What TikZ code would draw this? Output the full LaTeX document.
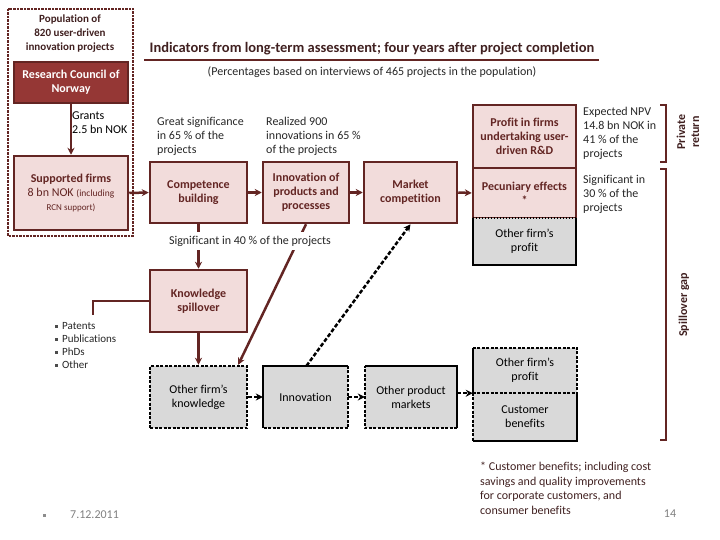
\documentclass[tikz,border=0pt]{standalone}
\usepackage{fontspec}
\setmainfont{Carlito}[Ligatures=NoCommon]
\usepackage{xcolor}
\definecolor{rcnred}{RGB}{149,55,53}
\definecolor{darkred}{RGB}{99,37,35}
\definecolor{pinkfill}{RGB}{242,220,219}
\definecolor{greyfill}{RGB}{217,217,217}
\definecolor{headbrown}{RGB}{64,32,32}
\usepackage{tikz}
\usetikzlibrary{arrows.meta, positioning, calc}

\begin{document}
\begin{tikzpicture}[x=1pt,y=-1pt,
  every node/.style={font=\fontsize{12}{14}\selectfont, inner sep=0pt},
  pinkbox/.style={draw=darkred, fill=pinkfill, line width=2.5pt, align=center,
    text=darkred, font=\fontsize{12}{14}\selectfont\bfseries},
  greybox/.style={fill=greyfill, align=center, text=black},
  redarrow/.style={darkred, line width=2.5pt, -{Stealth[length=7pt,width=7pt]}},
  dasharrow/.style={black, line width=2.5pt, dash pattern=on 4pt off 2pt,
    -{Stealth[length=7pt,width=7pt]}},
  solidedge/.style={black, line width=2.5pt},
  dashedge/.style={black, line width=2.5pt, dash pattern=on 3pt off 1.5pt},
  note/.style={align=left, anchor=north west, text=black!85},
  bracket/.style={darkred, line width=2.5pt}]
\useasboundingbox (0,0) rectangle (720,540);

% population frame
\draw[darkred, line width=2.5pt, dash pattern=on 2.5pt off 1pt] (8,9) rectangle (133,236);
\node[align=center, text=headbrown, font=\fontsize{11}{14}\selectfont\bfseries] (pop) at (70,34)
  {Population of\\820 user-driven\\innovation projects};
\node[draw=darkred, fill=rcnred, line width=2pt, text=white, align=center,
  font=\fontsize{12}{14}\selectfont\bfseries, minimum width=114pt, minimum height=41pt] (rcn) at (71,82.5)
  {Research Council of\\Norway};
\node[pinkbox, minimum width=114pt, minimum height=74pt] (firms) at (71,193)
  {Supported firms\\{\mdseries 8 bn NOK {\fontsize{9.5}{14}\selectfont(including}}\\
   {\mdseries\fontsize{9}{12}\selectfont RCN support)}};
\draw[redarrow] (rcn) -- (firms);
\node[note, text=black] (grants) at (72,112) {Grants\\2.5 bn NOK};

% header
\node[text=headbrown, font=\fontsize{14.5}{16}\selectfont\bfseries] (title) at (372,49)
  {Indicators from long-term assessment; four years after project completion};
\draw[darkred, line width=2pt] (144,60) -- (599,60);
\node[text=black!85] (sub) at (372,72)
  {(Percentages based on interviews of 465 projects in the population)};

% first row
\node[pinkbox, minimum width=97pt, minimum height=61pt] (comp) at (198.5,192.5) {Competence\\building};
\node[pinkbox, minimum width=86pt, minimum height=61pt] (innov) at (306,192.5) {Innovation of\\products and\\processes};
\node[pinkbox, minimum width=93pt, minimum height=61pt] (market) at (410.5,192.5) {Market\\competition};
\node[pinkbox, minimum width=103pt, minimum height=63pt] (profit) at (524.5,136.5) {Profit in firms\\undertaking user-\\driven R\&D};
\node[pinkbox, minimum width=103pt, minimum height=50pt] (pecun) at (524.5,193) {Pecuniary effects\\*};
\node[greybox, minimum width=103pt, minimum height=47pt] (ofprofit) at (524.5,241.5) {Other firm's\\profit};
\draw[solidedge] (ofprofit.north west) -- (ofprofit.south west) -- (ofprofit.south east) -- (ofprofit.north east);
\draw[black, line width=2.5pt, dash pattern=on 1.5pt off 1.5pt] (ofprofit.north west) -- (ofprofit.north east);

\draw[redarrow] (firms.east) -- (comp.west);
\draw[redarrow] (comp) -- (innov);
\draw[redarrow] (innov) -- (market);
\draw[redarrow] (market.east) -- (pecun.west);

\node[note] (greatsig) at (157,117) {Great significance\\in 65 \% of the\\projects};
\node[note] (realized) at (266,117) {Realized 900\\innovations in 65 \%\\of the projects};
\node[note] (npv) at (583,107) {Expected NPV\\14.8 bn NOK in\\41 \% of the\\projects};
\node[note] (sig30) at (583,175) {Significant in\\30 \% of the\\projects};

% spillover part
\node[pinkbox, minimum width=97pt, minimum height=62pt] (spill) at (198.5,301) {Knowledge\\spillover};
\node[greybox, draw=black, line width=2.5pt, dash pattern=on 3pt off 1.5pt,
  minimum width=97pt, minimum height=62pt] (ofknow) at (198.5,397) {Other firm's\\knowledge};
\node[greybox, minimum width=85pt, minimum height=62pt] (inno) at (305.5,397) {Innovation};
\draw[solidedge] (inno.south west) -- (inno.north west) -- (inno.north east);
\draw[dashedge] (inno.north east) -- (inno.south east) -- (inno.south west);
\node[greybox, minimum width=92pt, minimum height=62pt] (opm) at (411,397) {Other product\\markets};
\draw[solidedge] (opm.north west) -- (opm.north east) -- (opm.south east);
\draw[dashedge] (opm.south east) -- (opm.south west) -- (opm.north west);
\node[greybox, minimum width=104pt, minimum height=45pt] (ofprofit2) at (525,370.5) {Other firm's\\profit};
\node[greybox, minimum width=104pt, minimum height=48pt] (custben) at (525,417) {Customer\\benefits};
\draw[solidedge] (ofprofit2.south west) -- (ofprofit2.north west);
\draw[dashedge] (ofprofit2.north west) -- (ofprofit2.north east) -- (ofprofit2.south east);
\draw[dashedge] (custben.north west) -- (custben.north east);
\draw[dashedge] (custben.north west) -- (custben.south west);
\draw[solidedge] (custben.south west) -- (custben.south east) -- (custben.north east);

\draw[redarrow] (comp.south) -- (spill.north);
\draw[redarrow] (innov.south) -- ([xshift=-10pt]ofknow.north east);
\draw[redarrow] (spill.south) -- (ofknow.north);
\node[fill=white, inner xsep=2pt, inner ysep=4pt, text=black!85] (sig40) at (250,241)
  {Significant in 40 \% of the projects};
\draw[dasharrow] ([xshift=1pt]inno.north) -- (market.south);
\draw[dasharrow] (ofknow.east) -- (inno.west);
\draw[dasharrow] (inno.east) -- (opm.west);
\draw[dasharrow] (opm.east |- ofprofit2.south) -- (ofprofit2.south west);

\coordinate (listtop) at (93,315);
\draw[darkred, line width=2.5pt] (spill.west) -| (listtop);
\foreach \i/\txt in {0/Patents,1/Publications,2/PhDs,3/Other} {
  \fill[black!70] (55,{324.5+13*\i}) rectangle +(3,3);
  \node[anchor=west, text=black!85, font=\fontsize{11}{12}\selectfont] (item\i) at (62,{326+13*\i}) {\txt};
}

% brackets
\draw[bracket] (660,105) -- (666,105) -- (666,162) -- (660,162);
\draw[bracket] (660,169) -- (666,169) -- (666,440) -- (660,440);
\node[rotate=90, align=center, text=headbrown, font=\fontsize{12}{14}\selectfont\bfseries] (priv) at (688,132) {Private\\return};
\node[rotate=90, text=headbrown, font=\fontsize{12}{14}\selectfont\bfseries] (gap) at (684,305) {Spillover gap};

% footnote and footer
\node[note, text=headbrown, font=\fontsize{12}{14.5}\selectfont] (foot) at (480,462)
  {* Customer benefits; including cost\\savings and quality improvements\\for corporate customers, and\\consumer benefits};
\node[text=black!50] (page) at (670,514) {14};
\fill[black!45] (42.5,513.5) rectangle +(3,3);
\node[anchor=west, text=black!50] (date) at (70,515) {7.12.2011};
\end{tikzpicture}
\end{document}
